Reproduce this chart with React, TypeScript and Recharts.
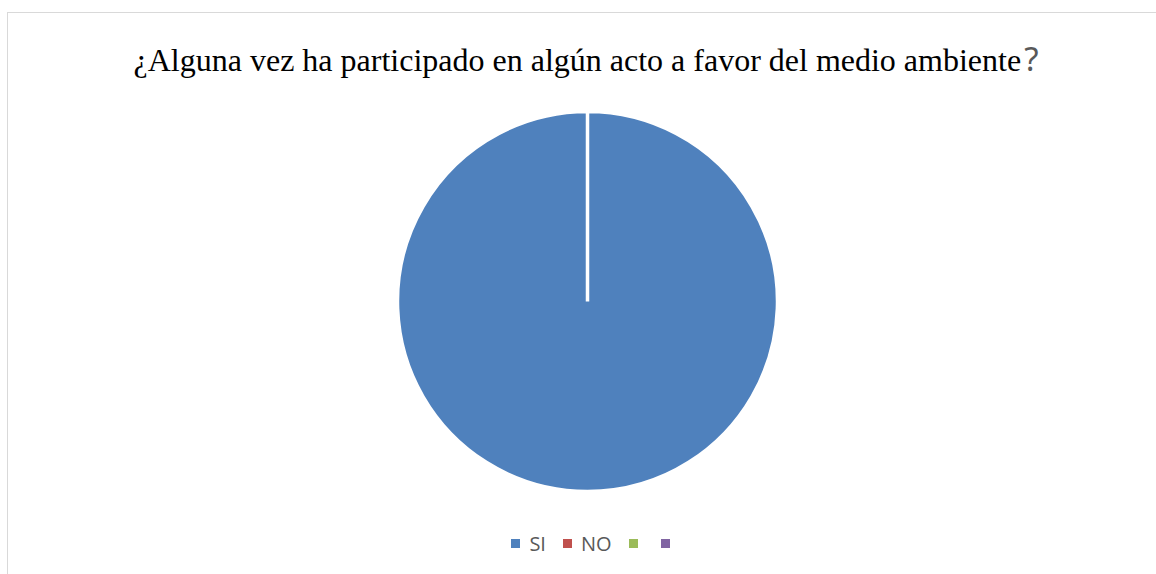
import { PieChart, Pie, Cell, Legend } from 'recharts'

const categories = ['SI', 'NO', '', '']
const values = [100, 0, 0, 0]
const COLORS = ['#4F81BD', '#C0504D', '#9BBB59', '#8064A2']

const data = categories.map((name, i) => ({ name, value: values[i] }))

function LegendRow() {
  return (
    <div style={{ display: 'flex', justifyContent: 'center', alignItems: 'center', height: 20, fontFamily: 'Open Sans, sans-serif', fontSize: 20, color: '#595959', paddingLeft: 25 }}>
      {categories.map((c, i) => (
        <div key={i} style={{ display: 'flex', alignItems: 'center', marginRight: i === categories.length - 1 ? 0 : c ? 17 : 23 }}>
          <span style={{ display: 'inline-block', width: 9, height: 9, background: COLORS[i], marginRight: c ? 9 : 0 }} />
          {c && <span style={{ lineHeight: '20px' }}>{c}</span>}
        </div>
      ))}
    </div>
  )
}

export default function App() {
  return (
    <div style={{ position: 'absolute', left: 0, top: 0, width: 1156, height: 574, background: '#fff', overflow: 'hidden' }}>
      <div style={{ position: 'absolute', left: 7, top: 12, width: 1170, height: 600, border: '1px solid #d9d9d9' }} />
      <PieChart width={1156} height={574} margin={{ top: 0, right: 0, bottom: 0, left: 0 }} style={{ position: 'absolute', left: 0, top: 0 }}>
        <text x={586} y={71} textAnchor="middle" fontFamily="Liberation Serif, Times New Roman, serif" fontSize={32} fill="#000">
          ¿Alguna vez ha participado en algún acto a favor del medio ambiente
          <tspan fontFamily="Noto Sans" fill="#595959" fontSize={33} dx={3}>?</tspan>
        </text>
        <Pie
          data={data}
          dataKey="value"
          nameKey="name"
          cx={587.5}
          cy={301.5}
          outerRadius={190}
          startAngle={90}
          endAngle={-270}
          stroke="#fff"
          strokeWidth={3.5}
          isAnimationActive={false}
        >
          {data.map((_, i) => (
            <Cell key={i} fill={COLORS[i]} />
          ))}
        </Pie>
        <Legend verticalAlign="bottom" wrapperStyle={{ bottom: 20.5, left: 0, width: 1156 }} content={() => <LegendRow />} />
      </PieChart>
    </div>
  )
}
